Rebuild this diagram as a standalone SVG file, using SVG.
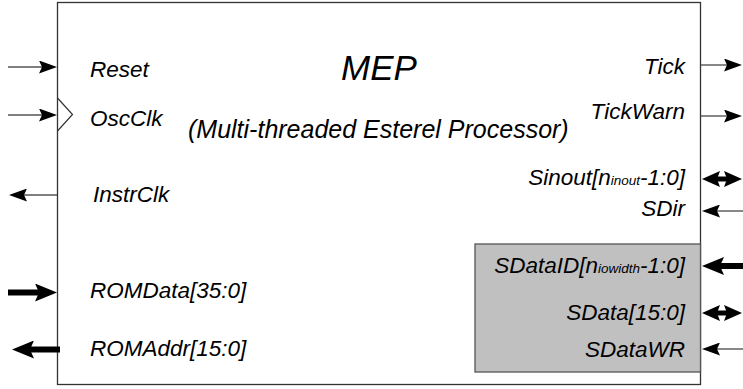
<svg xmlns="http://www.w3.org/2000/svg" width="743" height="389" viewBox="0 0 743 389">
<style>
text{font-family:"Liberation Sans",Arial,sans-serif;font-style:italic;fill:#000}
.lbl{font-size:22.5px}
.sub{font-size:13.5px}
.r{text-anchor:end}
.box{fill:#fff;stroke:#333;stroke-width:1.3}
.gbox{fill:#c0c0c0;stroke:#555;stroke-width:1.3}
.thin{stroke:#555;stroke-width:1.4;fill:none}
.thick{stroke:#000;stroke-width:6;fill:none}
.dbl{stroke:#000;stroke-width:5;fill:none}
</style>
<defs>
<marker id="ah" viewBox="0 0 18 13" refX="3" refY="6.5" markerWidth="18" markerHeight="13" markerUnits="userSpaceOnUse" orient="auto"><path d="M0,0 L18,6.5 L0,13 L3,6.5 Z" fill="#000"/></marker>
<marker id="ahT" viewBox="0 0 22 18" refX="5" refY="9" markerWidth="22" markerHeight="18" markerUnits="userSpaceOnUse" orient="auto"><path d="M0,0 L22,9 L0,18 L4,9 Z" fill="#000"/></marker>
<marker id="ahD" viewBox="0 0 18 16" refX="3" refY="8" markerWidth="18" markerHeight="16" markerUnits="userSpaceOnUse" orient="auto-start-reverse"><path d="M0,0 L18,8 L0,16 L3,8 Z" fill="#000"/></marker>
</defs>
<g id="mep">
<rect class="box" x="57.5" y="2.5" width="643" height="382"/>
<path d="M57.5,98 L72.5,114.5 L57.5,131" fill="none" stroke="#333" stroke-width="1.2"/>
<text x="341" y="80" style="font-size:35px">MEP</text>
<text x="188" y="138" style="font-size:25px">(Multi-threaded Esterel Processor)</text>
<text class="lbl" x="90" y="77">Reset</text>
<text class="lbl" x="90" y="126">OscClk</text>
<text class="lbl" x="93" y="202">InstrClk</text>
<text class="lbl" x="90" y="298">ROMData[35:0]</text>
<text class="lbl" x="90" y="356">ROMAddr[15:0]</text>
<text class="lbl r" x="685" y="74">Tick</text>
<text class="lbl r" x="685" y="119">TickWarn</text>
<text class="lbl r" x="685" y="185">Sinout[n<tspan class="sub">inout</tspan>-1:0]</text>
<text class="lbl r" x="685" y="216">SDir</text>
</g>
<g id="sdata">
<rect class="gbox" x="475" y="244" width="225.5" height="128"/>
<text class="lbl r" x="685" y="273">SDataID[n<tspan class="sub">iowidth</tspan>-1:0]</text>
<text class="lbl r" x="685" y="320">SData[15:0]</text>
<text class="lbl r" x="685" y="357">SDataWR</text>
</g>
<g id="connectors">
<line class="thin" x1="8" y1="67" x2="42" y2="67" marker-end="url(#ah)"/>
<line class="thin" x1="8" y1="115" x2="42" y2="115" marker-end="url(#ah)"/>
<line class="thin" x1="57" y1="195" x2="24" y2="195" marker-end="url(#ah)"/>
<line class="thick" x1="8" y1="292.5" x2="40" y2="292.5" marker-end="url(#ahT)"/>
<line class="thick" x1="60" y1="349.5" x2="29" y2="349.5" marker-end="url(#ahT)"/>
<line class="thin" x1="701" y1="65" x2="727" y2="65" marker-end="url(#ah)"/>
<line class="thin" x1="701" y1="116" x2="727" y2="116" marker-end="url(#ah)"/>
<line class="dbl" x1="717" y1="179" x2="727" y2="179" marker-start="url(#ahD)" marker-end="url(#ahD)"/>
<line class="thin" x1="743" y1="211" x2="717" y2="211" marker-end="url(#ah)"/>
<line class="thick" x1="743" y1="266" x2="719" y2="266" marker-end="url(#ahT)"/>
<line class="dbl" x1="717" y1="313" x2="727" y2="313" marker-start="url(#ahD)" marker-end="url(#ahD)"/>
<line class="thin" x1="743" y1="349" x2="717" y2="349" marker-end="url(#ah)"/>
</g>
</svg>
